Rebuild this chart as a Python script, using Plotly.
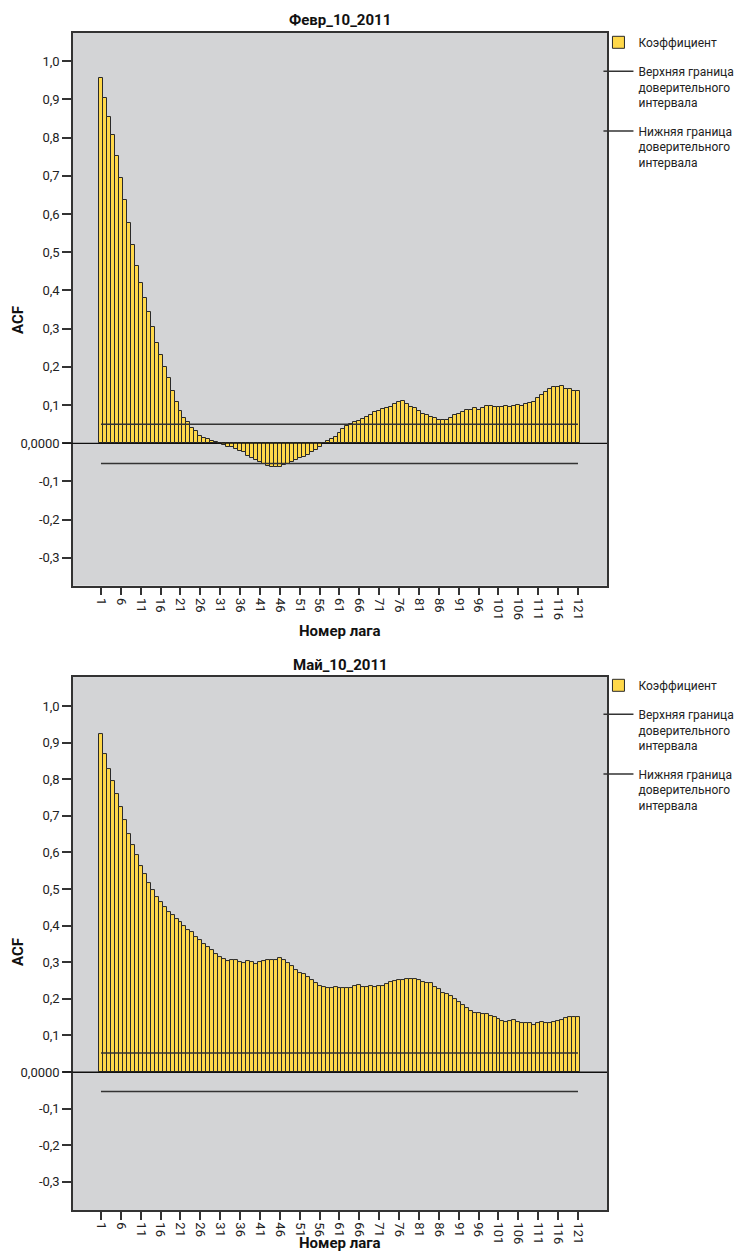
import plotly.graph_objects as go

lags = list(range(1, 122))

feb_acf = [0.955, 0.905, 0.855, 0.806, 0.752, 0.695, 0.637, 0.577, 0.519, 0.465,
           0.419, 0.379, 0.343, 0.304, 0.263, 0.231, 0.199, 0.170, 0.138, 0.108,
           0.084, 0.066, 0.056, 0.041, 0.031, 0.020, 0.014, 0.010, 0.006, 0.003,
           -0.002, -0.005, -0.009, -0.011, -0.016, -0.019, -0.024, -0.033, -0.039, -0.044,
           -0.048, -0.055, -0.060, -0.063, -0.063, -0.061, -0.058, -0.055, -0.049, -0.045,
           -0.039, -0.037, -0.030, -0.024, -0.017, -0.010, 0.001, 0.006, 0.010, 0.017,
           0.026, 0.038, 0.045, 0.051, 0.055, 0.059, 0.064, 0.068, 0.073, 0.081,
           0.085, 0.089, 0.092, 0.095, 0.103, 0.107, 0.110, 0.102, 0.096, 0.091,
           0.084, 0.077, 0.073, 0.069, 0.066, 0.062, 0.061, 0.062, 0.066, 0.073,
           0.077, 0.082, 0.087, 0.088, 0.091, 0.087, 0.093, 0.097, 0.098, 0.094,
           0.094, 0.094, 0.098, 0.095, 0.097, 0.099, 0.098, 0.102, 0.105, 0.109,
           0.119, 0.127, 0.135, 0.141, 0.148, 0.148, 0.150, 0.143, 0.142, 0.137,
           0.137]

may_acf = [0.923, 0.869, 0.828, 0.796, 0.759, 0.725, 0.688, 0.650, 0.619, 0.594,
           0.564, 0.540, 0.517, 0.497, 0.477, 0.464, 0.450, 0.438, 0.429, 0.419,
           0.409, 0.399, 0.389, 0.383, 0.368, 0.361, 0.350, 0.342, 0.333, 0.322,
           0.314, 0.308, 0.303, 0.307, 0.305, 0.300, 0.298, 0.303, 0.301, 0.296,
           0.300, 0.303, 0.306, 0.306, 0.307, 0.311, 0.307, 0.299, 0.290, 0.278,
           0.271, 0.267, 0.260, 0.250, 0.243, 0.236, 0.232, 0.230, 0.229, 0.231,
           0.230, 0.230, 0.230, 0.230, 0.234, 0.237, 0.233, 0.233, 0.235, 0.232,
           0.236, 0.236, 0.239, 0.246, 0.248, 0.250, 0.251, 0.254, 0.254, 0.254,
           0.250, 0.247, 0.243, 0.243, 0.233, 0.227, 0.217, 0.213, 0.208, 0.200,
           0.192, 0.184, 0.174, 0.167, 0.162, 0.162, 0.158, 0.158, 0.153, 0.150,
           0.144, 0.140, 0.137, 0.140, 0.141, 0.137, 0.134, 0.133, 0.133, 0.129,
           0.133, 0.136, 0.133, 0.133, 0.136, 0.138, 0.143, 0.147, 0.151, 0.150,
           0.150]

feb_upper = [0.050] * len(lags)
feb_lower = [-0.053] * len(lags)
may_upper = [0.052] * len(lags)
may_lower = [-0.053] * len(lags)

x_tickvals = list(range(1, 122, 5))
x_ticktext = [str(v) for v in x_tickvals]
y_tickvals = [-0.3, -0.2, -0.1, 0.0, 0.1, 0.2, 0.3, 0.4, 0.5, 0.6, 0.7, 0.8, 0.9, 1.0]
y_ticktext = ["-0,3", "-0,2", "-0,1", "0,0000", "0,1", "0,2", "0,3", "0,4", "0,5",
              "0,6", "0,7", "0,8", "0,9", "1,0"]

titles = ["Февр_10_2011", "Май_10_2011"]
name_coef = "Коэффициент"
name_up = "Верхняя граница<br>доверительного<br>интервала"
name_lo = "Нижняя граница<br>доверительного<br>интервала"

FONT = "Roboto, Liberation Sans Narrow, sans-serif"
BAR = "#FFD84A"
EDGE = "#2a2a2a"
BG = "#D3D4D6"

fig = go.Figure()

for i, (vals, up, lo) in enumerate([(feb_acf, feb_upper, feb_lower),
                                     (may_acf, may_upper, may_lower)]):
    xa = "x" if i == 0 else "x2"
    ya = "y" if i == 0 else "y2"
    lg = "legend" if i == 0 else "legend2"
    fig.add_trace(go.Bar(x=lags, y=vals, name=name_coef, xaxis=xa, yaxis=ya, legend=lg,
                         legendgroup=f"c{i}",
                         marker=dict(color=BAR, line=dict(color=EDGE, width=1))))
    fig.add_trace(go.Scatter(x=lags, y=up, name=name_up, mode="lines", xaxis=xa, yaxis=ya,
                             legend=lg, legendgroup=f"u{i}",
                             line=dict(color="#333333", width=1.5)))
    fig.add_trace(go.Scatter(x=lags, y=lo, name=name_lo, mode="lines", xaxis=xa, yaxis=ya,
                             legend=lg, legendgroup=f"l{i}",
                             line=dict(color="#333333", width=1.5)))

xcommon = dict(range=[-6.04, 128.3], tickmode="array", tickvals=x_tickvals, ticktext=x_ticktext,
               tickangle=90, ticks="outside", ticklen=8, tickwidth=1.5, tickcolor="#333333",
               showline=True, linecolor="#333333", linewidth=1.5, mirror=True,
               showgrid=False, zeroline=False, tickfont=dict(family=FONT, size=13, color="#222"))
ycommon = dict(tickmode="array", tickvals=y_tickvals, ticktext=y_ticktext,
               ticks="outside", ticklen=9, tickwidth=1.5, tickcolor="#333333",
               showline=True, linecolor="#333333", linewidth=1.5, mirror=True,
               showgrid=False, zeroline=True, zerolinecolor="#111111", zerolinewidth=1.2,
               tickfont=dict(family=FONT, size=13, color="#222"))

def py(p):
    return (1210 - p) / 1177

legend_common = dict(xanchor="left", yanchor="top", bgcolor="rgba(0,0,0,0)",
                     font=dict(family=FONT, size=12, color="#222"), itemwidth=30,
                     valign="top", tracegroupgap=10, traceorder="grouped")

fig.update_layout(
    width=739, height=1255,
    margin=dict(l=73, r=132, t=33, b=45, autoexpand=False),
    paper_bgcolor="white", plot_bgcolor=BG,
    bargap=0,
    showlegend=True,
    font=dict(family=FONT, size=14, color="#222"),
    xaxis=dict(domain=[0, 1], anchor="y", **xcommon),
    yaxis=dict(domain=[0.5304, 1], anchor="x", range=[-0.373, 1.074], **ycommon),
    xaxis2=dict(domain=[0, 1], anchor="y2", **xcommon),
    yaxis2=dict(domain=[0, 0.4528], anchor="x2", range=[-0.377, 1.079], **ycommon),
    legend=dict(x=0.984, y=py(28), **legend_common),
    legend2=dict(x=0.984, y=py(671), **legend_common),
)

ann = [
    dict(text="<b>" + titles[0] + "</b>", y=py(20), anchor="middle"),
    dict(text="<b>" + titles[1] + "</b>", y=py(665), anchor="middle"),
    dict(text="<b>Номер лага</b>", y=py(631), anchor="middle"),
    dict(text="<b>Номер лага</b>", y=py(1254), anchor="bottom"),
]
for a in ann:
    fig.add_annotation(text=a["text"], x=0.5, y=a["y"], xref="paper", yref="paper",
                       showarrow=False, xanchor="center", yanchor=a["anchor"],
                       font=dict(family=FONT, size=15, color="#111"))
for yy in [py(320), py(952)]:
    fig.add_annotation(text="<b>ACF</b>", x=(18 - 73) / 534, y=yy, xref="paper", yref="paper",
                       showarrow=False, textangle=-90, xanchor="center", yanchor="middle",
                       font=dict(family=FONT, size=15, color="#111"))

for yref in ["y", "y2"]:
    fig.add_shape(type="line", xref="paper", yref=yref, x0=-0.019, x1=1.0, y0=0, y1=0,
                  line=dict(color="#111111", width=1.2))

fig.write_html("out.html", config={"displayModeBar": False},
               post_script="document.body.style.margin='0';document.body.style.overflow='hidden';")
